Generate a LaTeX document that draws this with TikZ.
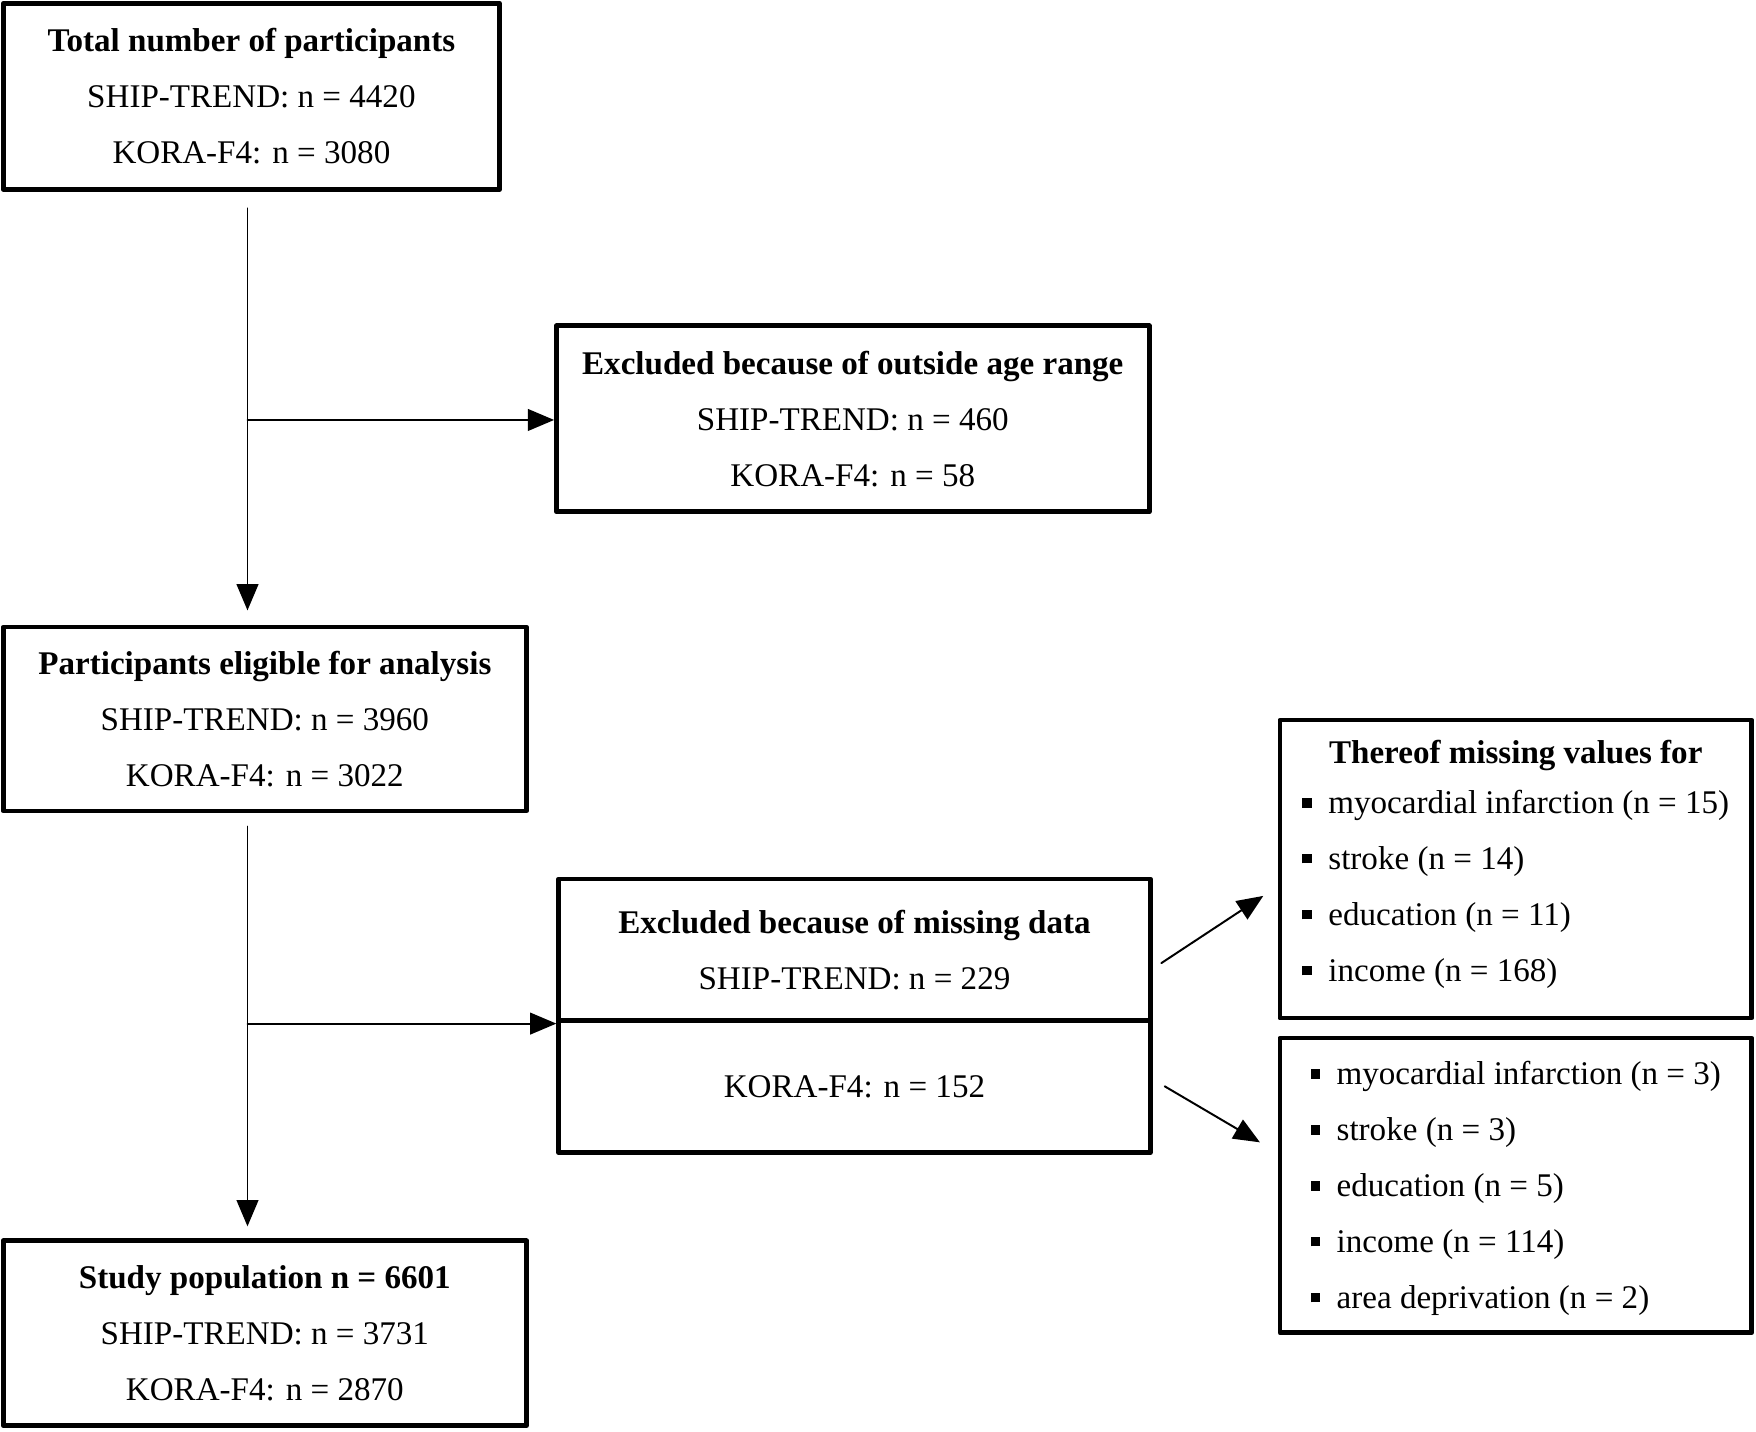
\documentclass[tikz,border=0pt]{standalone}
\usepackage{fontspec}
\setmainfont{Liberation Serif}
\usetikzlibrary{arrows}
\begin{document}
\begin{tikzpicture}[line cap=round,line join=round,>=triangle 45,x=0.01cm,y=-0.01cm,
  box/.style={draw,line width=1.2pt,inner sep=0pt,align=center,font=\fontsize{8.4}{14.2}\selectfont},
  flow/.style={->,line width=0.5pt}]
\newcommand{\bul}{\rule[0.4ex]{2.4pt}{2.4pt}\ \ }
\useasboundingbox (0,0) rectangle (1568,1278);

\node[box,minimum width=4.43cm,minimum height=1.66cm] (total) at (224.5,86)
  {\textbf{Total number of participants}\\SHIP-TREND: n = 4420\\KORA-F4: n = 3080};
\node[box,minimum width=5.29cm,minimum height=1.66cm] (age) at (761.5,374)
  {\textbf{Excluded because of outside age range}\\SHIP-TREND: n = 460\\KORA-F4: n = 58};
\node[box,minimum width=4.67cm,minimum height=1.64cm] (eligible) at (236.5,642)
  {\textbf{Participants eligible for analysis}\\SHIP-TREND: n = 3960\\KORA-F4: n = 3022};
\node[box,minimum width=5.28cm,minimum height=1.26cm] (misstop) at (763,848)
  {\textbf{Excluded because of missing data}\\SHIP-TREND: n = 229};
\node[box,minimum width=5.28cm,minimum height=1.18cm] (missbot) at (763,970)
  {KORA-F4: n = 152};
\node[box,minimum width=4.67cm,minimum height=1.65cm] (study) at (236.5,1190.5)
  {\textbf{Study population n = 6601}\\SHIP-TREND: n = 3731\\KORA-F4: n = 2870};
\node[box,minimum width=4.21cm,minimum height=2.66cm] (ship) at (1353.5,776)
  {\textbf{Thereof missing values for}\\
   \begin{tabular}{@{}l@{}}\bul myocardial infarction (n = 15)\\\bul stroke (n = 14)\\
   \bul education (n = 11)\\\bul income (n = 168)\end{tabular}};
\node[box,minimum width=4.21cm,minimum height=2.63cm] (kora) at (1353.5,1058.5)
  {\begin{tabular}{@{}l@{}}\bul myocardial infarction (n = 3)\\\bul stroke (n = 3)\\
   \bul education (n = 5)\\\bul income (n = 114)\\\bul area deprivation (n = 2)\end{tabular}};

% branch points
\coordinate (a1) at (221,186);
\coordinate (a2) at (221,545);
\coordinate (b1) at (221,375);
\coordinate (c1) at (221,738);
\coordinate (c2) at (221,1095);
\coordinate (b2) at (221,914);
\coordinate (d1) at (1037,860);
\coordinate (d2) at (1128,800);
\coordinate (d3) at (1040,970);
\coordinate (d4) at (1125,1020);

\draw[flow] (a1) -- (a2);
\draw[flow] (b1) -- (b1 -| age.west);
\draw[flow] (c1) -- (c2);
\draw[flow] (b2) -- (b2 -| misstop.west);
\draw[flow] (d1) -- (d2);
\draw[flow] (d3) -- (d4);
\end{tikzpicture}
\end{document}
